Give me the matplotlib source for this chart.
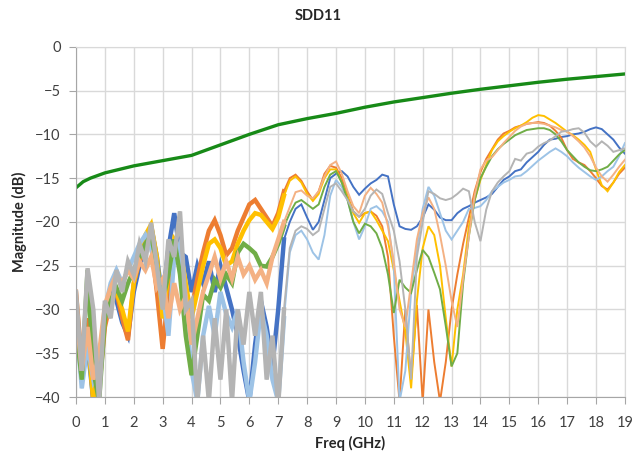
import matplotlib
matplotlib.use("Agg")
import matplotlib.pyplot as plt
import numpy as np

plt.rcParams['font.family'] = ['Lato', 'DejaVu Sans']

# frequency grid of the measured traces (GHz), 0.2 GHz step
freq = np.linspace(0, 19, 96)

trace_blue = [
    -31, -38, -34, -40.5, -37, -31, -28, -29, -31.5, -33,
    -28, -25, -23, -20.5, -24, -29, -23, -19, -23.5, -24,
    -28, -25, -27, -24.5, -28, -25, -27.5, -30, -33, -37,
    -40.5, -34, -29, -32, -36.5, -30, -22, -20, -18.5, -18,
    -19.5, -20.9, -20, -17.5, -15, -14.5, -14.2, -14.8, -16, -16.9,
    -16.2, -15.6, -15.2, -14.6, -14.8, -18, -20.5, -20.8, -20.9, -20.5,
    -19.5, -18, -18.6, -19.5, -19.8, -19.8, -19, -18.5, -18.2, -17.8,
    -17.5, -17.2, -16.8, -16, -15.2, -14.8, -14.2, -14, -13.2, -12.6,
    -12, -11.2, -10.6, -10.5, -10.3, -10.2, -10, -9.9, -9.7, -9.4,
    -9.2, -9.4, -10, -10.6, -11.5, -12.2,
]
trace_orange = [
    -28, -36, -31, -40.5, -39, -32, -29, -28, -31, -33.5,
    -27, -24.5, -23, -22.5, -28, -34.5, -28, -24, -25, -30,
    -30, -26.5, -23.5, -21, -19.8, -21.5, -23.8, -23, -21, -19.5,
    -18, -17.5, -18.5, -19.5, -20.5, -19, -16.5, -15, -14.6, -15.3,
    -16.5, -17.5, -16.5, -14.5, -13.6, -13.8, -15, -17, -18.8, -19.4,
    -19, -18.8, -19.3, -20.5, -24, -33, -40.5, -30, -38, -29.5,
    -40.5, -30, -36, -40.5, -36, -30, -26, -22.5, -19.5, -16.5,
    -14.3, -12.8, -11.7, -10.6, -9.9, -9.6, -9.2, -9, -8.8, -8.7,
    -8.6, -8.7, -9, -9.6, -10.4, -11.8, -12.8, -13.2, -13.5, -14.2,
    -15, -15.9, -16.3, -15.5, -14.5, -13.8,
]
trace_yellow = [
    -30, -37, -33, -40.5, -38, -31, -28.5, -28, -30, -32.5,
    -27, -24, -21.5, -20.3, -24, -31, -26, -22, -23, -27,
    -31, -28, -25, -22.5, -22, -23, -25, -24.5, -22.5, -21,
    -19.8, -19, -19.2, -20, -20.8, -19.5, -17, -15.3, -14.8, -15.5,
    -16.8, -17.6, -16.8, -15, -14, -14, -15.5, -17.2, -19, -20.1,
    -19, -18.8, -19.8, -21, -22.2, -25.5, -29, -32.5, -39, -29,
    -23, -20.5, -21.5, -25, -31, -36.5, -30, -26, -20.5, -17.5,
    -15.2, -13.5, -11.8, -10.8, -10.2, -9.7, -9.3, -9, -8.6, -8.1,
    -7.8, -7.9, -8.3, -8.7, -9.2, -9.7, -10.1, -10.6, -11.2, -12,
    -14, -15.8, -16.5, -15.5, -14.3, -13.5,
]
trace_lightblue = [
    -31, -39, -34, -38, -36, -30, -27, -25.5, -27, -25.5,
    -24, -22.5, -21.5, -23, -26, -28, -33, -24, -22.5, -30,
    -37, -40.5, -33, -29.6, -33, -28, -30.5, -32, -30, -36,
    -40.5, -36, -30, -33, -38, -40.5, -31, -23.5, -21.5, -21,
    -22, -23.5, -24.3, -21.5, -17, -15.2, -16, -17.5, -20, -22,
    -20.5, -18.5, -18.2, -18.8, -20, -25, -40.5, -37, -28, -23,
    -18.5, -16, -17, -19, -21, -22, -21, -20, -18.5, -18.4,
    -18.2, -17.5, -16.5, -16, -15.5, -15.2, -14.8, -14.7, -14.2, -13.6,
    -13, -12.5, -12, -11.6, -12, -12.5, -13.2, -13.8, -14.3, -14.8,
    -15.2, -14.8, -14.2, -13.7, -12.5, -11,
]
trace_green = [
    -32, -38, -25.5, -37, -40.5, -31, -29, -27.5, -29, -27,
    -25.5, -24, -22.5, -21.5, -25, -29, -26, -22, -26, -33,
    -37.5, -33, -28.3, -29, -26.6, -27.5, -26, -27, -23.5, -22.5,
    -23, -23.6, -25, -25.1, -24, -22.5, -20.5, -19, -17.8, -17.5,
    -18, -18.5, -18, -16, -14.6, -14.2, -15.5, -17.5, -20, -21.3,
    -20.2, -20.5, -21.3, -23, -26, -30.4, -26.6, -27.5, -28.1, -25.5,
    -23.2, -24, -25.8, -27.7, -31.9, -36.5, -35, -27, -21.6, -17.5,
    -15, -13.7, -12.5, -11.7, -11.1, -10.6, -10.1, -9.8, -9.5, -9.4,
    -9.3, -9.3, -9.5, -10, -10.8, -11.8, -12.5, -13.2, -13.7, -14.1,
    -14.2, -14, -13.7, -13, -12.3, -11.8,
]
trace_salmon = [
    -30, -37, -32, -38, -35, -29.5, -27.5, -26, -27, -25.5,
    -26.5, -24.5, -25.5, -24, -27.5, -26.5, -31, -27, -30, -28.5,
    -34, -31, -28, -26, -24, -26.5, -24.5, -26.5, -24, -26,
    -25, -26.6, -25.5, -27, -24, -22, -20, -18.3, -16.6, -16.4,
    -17, -17.3, -16.5, -14.8, -13.5, -13.1, -14.5, -16.5, -18.2, -19,
    -17, -16.1, -16.8, -17.8, -20.5, -24.5, -30, -32, -27, -22,
    -19, -17.2, -18.5, -21.5, -25, -29, -32, -26.5, -21.6, -17,
    -14, -13, -12.6, -11.8, -11, -10.3, -9.6, -9.1, -8.8, -8.7,
    -8.7, -8.8, -9, -9.2, -9.5, -9.7, -10.2, -10.8, -11.5, -12.5,
    -13.8, -14.8, -15.4, -14.6, -13.7, -12.9,
]
trace_gray = [
    -28, -37, -25.3, -30, -40.5, -29, -31, -25.5, -28, -24.5,
    -26, -22.5, -24.5, -20.1, -25, -30, -22, -24, -18.8, -30,
    -29, -40.5, -33, -40.5, -31, -38, -30, -40.5, -30, -34,
    -28, -33, -28, -38, -33, -41, -30, -23, -21, -20.5,
    -20.8, -21.5, -21, -18.5, -16, -15.6, -16.5, -17.5, -18.8, -19.4,
    -18.5, -17, -16.3, -16.8, -19, -21, -24.5, -30, -38, -24,
    -20, -16.5, -16.8, -17.3, -17.5, -17.3, -16.8, -16.2, -16.5, -20,
    -22.2, -18.6, -16.5, -15.5, -14.8, -14.2, -12.8, -13, -12.2, -12,
    -11.4, -11, -10.7, -10.2, -9.7, -9.6, -9.4, -9.3, -9.8, -10.8,
    -11.4, -10.8, -11.3, -12, -11.8, -11.6,
]

# return loss limit line
limit_freq = [0, 0.25, 0.5, 1, 1.5, 2, 3, 4, 5, 6, 7, 8, 9, 10, 11, 12, 13, 14, 15, 16, 17, 18, 19]
limit_db = [-16.1, -15.4, -15.0, -14.4, -14.0, -13.6, -13.0, -12.4, -11.2, -10.0, -8.9, -8.2,
            -7.6, -6.9, -6.3, -5.8, -5.3, -4.85, -4.45, -4.05, -3.7, -3.4, -3.1]

traces = [
    (trace_blue, "#4472C4"),
    (trace_orange, "#ED7D31"),
    (trace_yellow, "#FFC000"),
    (trace_lightblue, "#9DC3E6"),
    (trace_green, "#70AD47"),
    (trace_salmon, "#F4B183"),
    (trace_gray, "#B4B4B4"),
]

fig = plt.figure(figsize=(6.37, 4.59), dpi=100)
ax = fig.add_axes([0.1193, 0.135, 0.8617, 0.763])

# the low-frequency part of each trace is very noisy, so it is drawn as a wider band
noisy = freq <= 7.2
for vals, color in traces:
    vals = np.asarray(vals)
    ax.plot(freq, vals, color=color, lw=1.4, solid_joinstyle="miter")
    ax.plot(freq[noisy], vals[noisy], color=color, lw=3.2, solid_joinstyle="miter")
ax.plot(limit_freq, limit_db, color="#178A17", lw=2.4)

ax.set_xlim(0, 19)
ax.set_ylim(-40, 0)
ax.set_xticks(np.arange(0, 20, 1))
ax.set_yticks(np.arange(-40, 1, 5))
ax.grid(True, color="#D9D9D9", lw=1.0)
ax.set_axisbelow(True)
for side in ["top", "right"]:
    ax.spines[side].set_color("#D9D9D9")
for side in ["left", "bottom"]:
    ax.spines[side].set_color("#A6A6A6")
ax.tick_params(axis="both", length=5, color="#A6A6A6", labelsize=10.5, labelcolor="#404040")
ax.tick_params(axis="x", pad=9)
ax.tick_params(axis="y", pad=6)

ax.set_xlabel("Freq (GHz)", fontsize=10.5, fontweight="bold", color="#262626", labelpad=4)
ax.set_ylabel("Magnitude (dB)", fontsize=10.5, fontweight="bold", color="#262626", labelpad=6)
fig.text(0.5, 0.965, "SDD11", ha="center", va="center", fontsize=10.5, fontweight="bold", color="#262626")

fig.savefig("out.png", dpi=100)
